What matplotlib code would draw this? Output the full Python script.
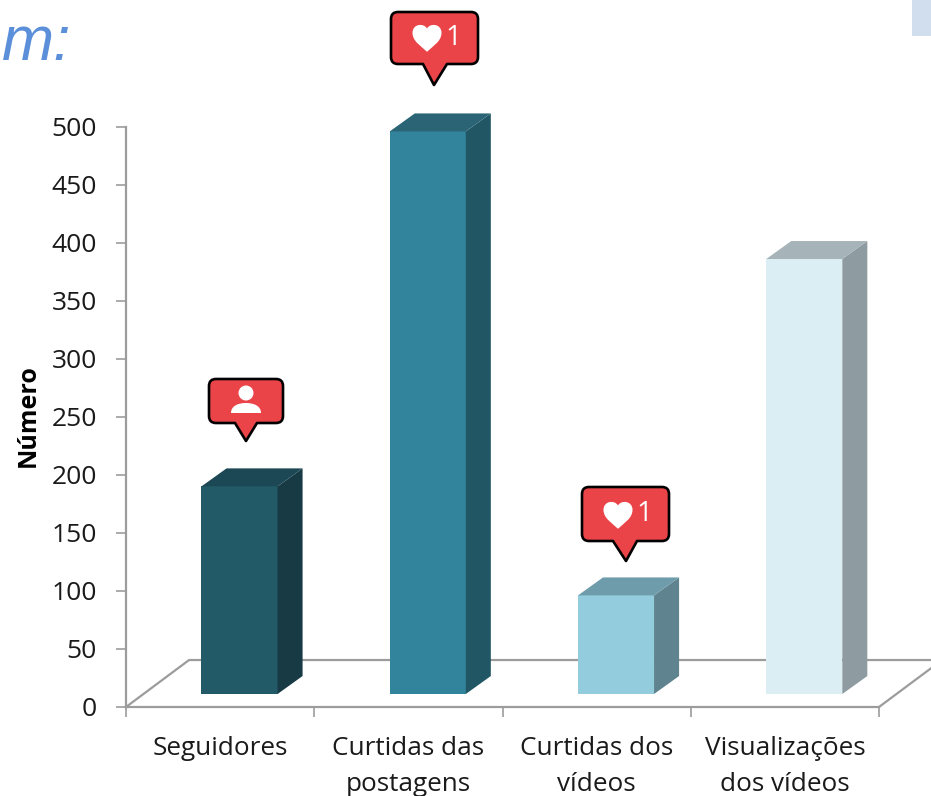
#!/usr/bin/env python

"""
3D looking bar chart of followers, likes and views
"""

import matplotlib
matplotlib.use('Agg')
import matplotlib.pyplot as plt
from matplotlib.patches import Circle, PathPatch, Polygon, Rectangle
from matplotlib.path import Path

categories = ['Seguidores', 'Curtidas das\npostagens', 'Curtidas dos\nvídeos', 'Visualizações\ndos vídeos']
values = [179, 485, 85, 375]
front_colors = ['#235A68', '#31849B', '#93CDDD', '#DBEEF4']
side_colors = ['#173A45', '#215664', '#5F8490', '#8E9BA0']
top_colors = ['#1C4754', '#2A6475', '#6F9CAB', '#A6B4B9']
y_ticks = [0, 50, 100, 150, 200, 250, 300, 350, 400, 450, 500]

WIDTH, HEIGHT = 931, 796
GREY = '#9C9C9C'
FONT = 'Open Sans'
RED = '#EA4448'

# the fake 3D depth, in data units
BAR_SHIFT = 0.103
BAR_BASE = 11.2
BAR_WIDTH = 0.404
BAR_DX = 0.133
BAR_DY = 15.5
FLOOR_DX = 0.335
FLOOR_DY = 40.5


def bubble(ov, left, right, top, bottom, tip_x, tip_y, base_left, base_right):
    """
    speech bubble with rounded corners, in pixel coordinates
    """
    r = 7
    verts = [
        (left + r, top), (right - r, top), (right, top), (right, top + r),
        (right, bottom - r), (right, bottom), (right - r, bottom),
        (base_right, bottom), (tip_x, tip_y), (base_left, bottom),
        (left + r, bottom), (left, bottom), (left, bottom - r),
        (left, top + r), (left, top), (left + r, top), (left + r, top),
    ]
    L, C = Path.LINETO, Path.CURVE3
    codes = [Path.MOVETO, L, C, C, L, C, C, L, L, L, L, C, C, L, C, C, Path.CLOSEPOLY]
    ov.add_patch(PathPatch(Path(verts, codes), facecolor=RED, edgecolor='black',
                           linewidth=1.9, joinstyle='round'))


def heart(ov, cx, cy, w):
    """
    white heart centred on cx, cy
    """
    s = w / 2.0
    pts = [(0, 0.95), (-0.35, 0.6), (-1, 0.25), (-1, -0.35), (-1, -1.0), (-0.2, -1.05),
           (0, -0.65), (0.2, -1.05), (1, -1.0), (1, -0.35), (1, 0.25), (0.35, 0.6), (0, 0.95)]
    verts = [(cx + s * x, cy + s * y) for x, y in pts]
    codes = [Path.MOVETO] + [Path.CURVE4] * 12
    ov.add_patch(PathPatch(Path(verts, codes), facecolor='white', edgecolor='none'))


def person(ov, cx):
    """
    white person icon
    """
    ov.add_patch(Circle((cx, 393), 7.5, facecolor='white', edgecolor='none'))
    verts = [(cx - 15, 413), (cx - 15, 406), (cx - 8, 403), (cx, 403),
             (cx + 8, 403), (cx + 15, 406), (cx + 15, 413), (cx - 15, 413)]
    codes = [Path.MOVETO] + [Path.CURVE4] * 6 + [Path.CLOSEPOLY]
    ov.add_patch(PathPatch(Path(verts, codes), facecolor='white', edgecolor='none'))


def main():
    fig = plt.figure(figsize=(WIDTH / 100, HEIGHT / 100), dpi=100, facecolor='white')
    ax = fig.add_axes([126 / WIDTH, 1 - 707 / HEIGHT, 753 / WIDTH, 580 / HEIGHT])
    ax.set_xlim(-0.5, 3.5)
    ax.set_ylim(0, 500)
    ax.patch.set_visible(False)

    ###### axes ######
    ax.spines['top'].set_visible(False)
    ax.spines['right'].set_visible(False)
    for side in ('left', 'bottom'):
        ax.spines[side].set_color(GREY)
        ax.spines[side].set_linewidth(1.6)
    ax.set_yticks(y_ticks)
    ax.tick_params(axis='y', length=7.5, width=1.2, color=GREY, pad=13.5, labelsize=19)
    ax.set_xticks([i - 0.5 for i in range(5)])
    ax.set_xticklabels([])
    ax.tick_params(axis='x', which='major', length=7, width=1.2, color=GREY)
    ax.set_xticks(range(4), categories, minor=True)
    ax.tick_params(axis='x', which='minor', length=0, pad=21, labelsize=18.8)
    for lab in ax.get_xticklabels(minor=True) + ax.get_yticklabels():
        lab.set_family(FONT)
        lab.set_color('#1A1A1A')
    for lab in ax.get_xticklabels(minor=True):
        lab.set_linespacing(1.55)
    ax.set_ylabel('Número', family=FONT, fontweight='bold', fontsize=18, color='black')
    ax.yaxis.set_label_coords(-0.113, 0.503)

    ###### floor ######
    ax.plot([-0.5, -0.5 + FLOOR_DX, 4.0], [0, FLOOR_DY, FLOOR_DY], color=GREY, lw=1.6,
            clip_on=False, zorder=1)
    ax.plot([3.5, 3.5 + FLOOR_DX], [0, FLOOR_DY], color=GREY, lw=1.6, clip_on=False, zorder=1)

    ###### bars ######
    for i, val in enumerate(values):
        x0 = i + BAR_SHIFT - BAR_WIDTH / 2
        x1 = x0 + BAR_WIDTH
        y0 = BAR_BASE
        y1 = y0 + val
        ax.bar(i + BAR_SHIFT, val, BAR_WIDTH, bottom=y0, color=front_colors[i], zorder=3, clip_on=False)
        ax.add_patch(Polygon([(x1, y0), (x1 + BAR_DX, y0 + BAR_DY), (x1 + BAR_DX, y1 + BAR_DY), (x1, y1)],
                             facecolor=side_colors[i], edgecolor='none', zorder=3, clip_on=False))
        ax.add_patch(Polygon([(x0, y1), (x1, y1), (x1 + BAR_DX, y1 + BAR_DY), (x0 + BAR_DX, y1 + BAR_DY)],
                             facecolor=top_colors[i], edgecolor='none', zorder=3, clip_on=False))

    ###### overlay in pixel coordinates ######
    ov = fig.add_axes([0, 0, 1, 1], zorder=5)
    ov.set_xlim(0, WIDTH)
    ov.set_ylim(HEIGHT, 0)
    ov.axis('off')

    ov.add_patch(Rectangle((912, 0), 19, 36, facecolor='#D0DEEE', edgecolor='none'))
    ov.text(2, 60, 'm:', family='Liberation Sans', style='italic', fontsize=45, color='#5B8FD9',
            ha='left', va='baseline')

    bubble(ov, 209, 283, 379, 423, 246, 441, 235, 257)
    person(ov, 246)

    bubble(ov, 391, 478, 12, 64, 434, 85, 423, 447)
    heart(ov, 427, 38, 29)
    ov.text(453, 38, '1', family=FONT, fontsize=20, color='white', ha='center', va='center')

    bubble(ov, 582, 669, 487, 541, 626, 561, 613, 637)
    heart(ov, 618, 515, 29)
    ov.text(644, 514, '1', family=FONT, fontsize=20, color='white', ha='center', va='center')

    fig.savefig('out.png', dpi=100, facecolor='white')


if __name__ == "__main__":
    main()
